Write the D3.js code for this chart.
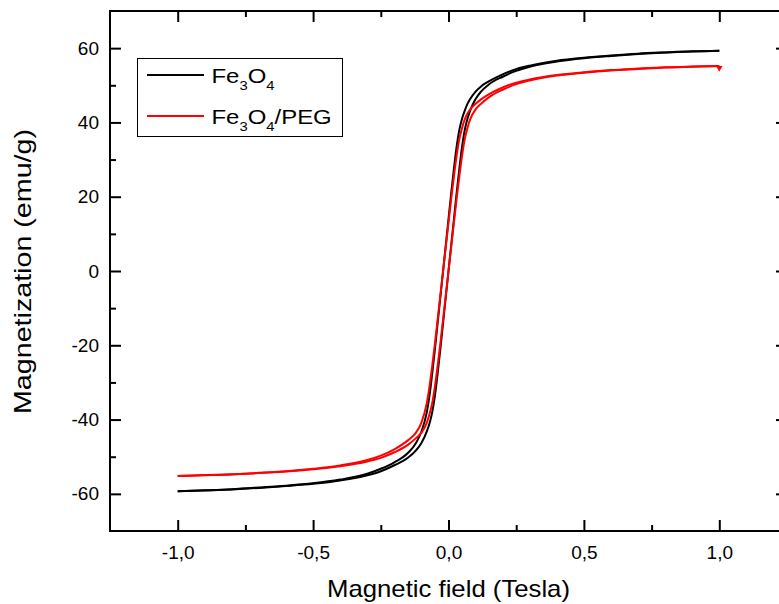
<!DOCTYPE html>
<html><head><meta charset="utf-8">
<script src="https://cdn.jsdelivr.net/npm/d3@7"></script>
<style>body{margin:0;background:#fff}svg{display:block}text{font-family:"Liberation Sans",Arial,sans-serif}</style>
</head><body><svg id="c" width="779" height="604"></svg>
<script>
const fieldT = [-1,-0.9,-0.8,-0.7,-0.6,-0.5,-0.4,-0.3,-0.25,-0.2,-0.15,-0.12,-0.1,-0.08,-0.07,-0.06,-0.05,-0.04,-0.03,-0.02,-0.01,0,0.01,0.02,0.03,0.04,0.05,0.06,0.07,0.08,0.1,0.12,0.15,0.2,0.25,0.3,0.4,0.5,0.6,0.7,0.8,0.9,1];
const fe3o4Asc = [-59.3,-59.1,-58.8,-58.4,-57.9,-57.3,-56.4,-55.0,-53.9,-52.3,-50.3,-48.3,-46.3,-43.2,-41.0,-38.0,-33.5,-27.5,-21.0,-14.0,-7.0,0,7.0,14.0,21.0,27.5,33.5,38.0,41.0,43.2,46.3,48.3,50.3,52.3,53.9,55.0,56.4,57.3,57.9,58.4,58.8,59.1,59.3];
const fe3o4Desc = [-59.3,-59.05,-58.75,-58.3,-57.8,-57.15,-56.15,-54.6,-53.25,-51.5,-49.0,-46.3,-43.2,-38.0,-33.5,-27.5,-21.0,-14.0,-7.0,0,7.0,14.0,21.0,27.5,33.5,38.0,41.0,43.2,45.0,46.3,48.3,49.7,51.1,52.95,54.35,55.3,56.6,57.4,58.0,58.5,58.85,59.15,59.3];
const pegAsc = [-55.2,-55.0,-54.8,-54.4,-54.0,-53.4,-52.6,-51.3,-50.3,-48.8,-46.8,-45.0,-43.5,-40.8,-38.5,-35.5,-31.0,-25.5,-19.5,-13.0,-6.5,0,6.5,13.0,19.5,25.5,31.0,35.5,38.5,40.8,43.5,45.0,46.8,48.8,50.3,51.3,52.6,53.4,54.0,54.4,54.8,55.0,55.2];
const pegDesc = [-55.2,-54.95,-54.75,-54.35,-53.9,-53.25,-52.35,-50.9,-49.7,-48.0,-45.6,-43.5,-40.8,-35.5,-31.0,-25.5,-19.5,-13.0,-6.5,0,6.5,13.0,19.5,25.5,31.0,35.5,38.5,40.8,42.4,43.5,45.0,46.2,47.6,49.4,50.7,51.55,52.75,53.5,54.1,54.5,54.85,55.05,55.2];
const xMajor = [-1,-0.5,0,0.5,1];
const xMinor = [-0.75,-0.25,0.25,0.75];
const yMajor = [-60,-40,-20,0,20,40,60];
const yMinor = [-50,-30,-10,10,30,50];
const seriesColors = ["#000000","#ff0000"];

const svg = d3.select("#c");
const L=110, R=787, T=11, B=531;
const x = d3.scaleLinear().domain([-1.25,1.25]).range([L,R]);
const y = d3.scaleLinear().domain([-70,70]).range([B,T]);
const fmt = v => d3.format(".1f")(v).replace("\u2212","-").replace(".",",");

function styleAxis(g){ g.select(".domain").remove(); g.selectAll("line").attr("stroke","#000").attr("stroke-width",2); g.selectAll("text").attr("fill","#000").style("font-family","'Liberation Sans',Arial,sans-serif"); }

svg.append("g").attr("transform",`translate(0,${B})`).call(d3.axisBottom(x).tickValues(xMajor).tickSize(-11).tickPadding(15).tickFormat(fmt)).call(styleAxis).selectAll("text").style("font-size","19px");
svg.append("g").attr("transform",`translate(0,${B})`).call(d3.axisBottom(x).tickValues(xMinor).tickSize(-6).tickFormat("")).call(styleAxis);
svg.append("g").attr("transform",`translate(0,${T})`).call(d3.axisTop(x).tickValues(xMajor).tickSize(-11).tickFormat("")).call(styleAxis);
svg.append("g").attr("transform",`translate(0,${T})`).call(d3.axisTop(x).tickValues(xMinor).tickSize(-6).tickFormat("")).call(styleAxis);
svg.append("g").attr("transform",`translate(${L},0)`).call(d3.axisLeft(y).tickValues(yMajor).tickSize(-11).tickPadding(11).tickFormat(v=>d3.format("d")(v).replace("\u2212","-"))).call(styleAxis).selectAll("text").style("font-size","19px");
svg.append("g").attr("transform",`translate(${L},0)`).call(d3.axisLeft(y).tickValues(yMinor).tickSize(-6).tickFormat("")).call(styleAxis);
svg.append("g").attr("transform",`translate(${R},0)`).call(d3.axisRight(y).tickValues(yMajor).tickSize(-11).tickFormat("")).call(styleAxis);
svg.append("g").attr("transform",`translate(${R},0)`).call(d3.axisRight(y).tickValues(yMinor).tickSize(-6).tickFormat("")).call(styleAxis);

svg.append("rect").attr("x",L).attr("y",T).attr("width",R-L).attr("height",B-T).attr("fill","none").attr("stroke","#000").attr("stroke-width",2);

const line = d3.line().x(d=>x(d[0])).y(d=>y(d[1])).curve(d3.curveMonotoneX);
const branches = [[fe3o4Desc,0],[fe3o4Asc,0],[pegDesc,1],[pegAsc,1]];
branches.forEach(([vals,i])=>{
  svg.append("path").datum(fieldT.map((h,k)=>[h,vals[k]])).attr("d",line)
    .attr("fill","none").attr("stroke",seriesColors[i]).attr("stroke-width",2);
});
svg.append("path").attr("d",d3.symbol(d3.symbolTriangle,18)()).attr("transform",`translate(${x(fieldT[fieldT.length-1])},${y(pegAsc[pegAsc.length-1])+2}) rotate(180)`).attr("fill","#ff0000");

svg.append("text").attr("x",448.5-121.5).attr("y",597).attr("textLength",243).attr("lengthAdjust","spacingAndGlyphs").style("font-size","24px").attr("fill","#000").text("Magnetic field (Tesla)");
svg.append("text").attr("transform",`translate(31,414) rotate(-90)`).attr("textLength",285).attr("lengthAdjust","spacingAndGlyphs").style("font-size","24px").attr("fill","#000").text("Magnetization (emu/g)");

const lg = svg.append("g");
lg.append("rect").attr("x",137.5).attr("y",58.5).attr("width",205).attr("height",78).attr("fill","#fff").attr("stroke","#000").attr("stroke-width",1);
[75,116].forEach((yy,i)=>{
  lg.append("line").attr("x1",147).attr("x2",204).attr("y1",yy).attr("y2",yy).attr("stroke",seriesColors[i]).attr("stroke-width",2);
  const t = lg.append("g").attr("transform",`translate(211.5,${yy+7.5}) scale(1.14,1)`).append("text").attr("x",0).attr("y",0).style("font-size","21px").attr("fill","#000");
  t.append("tspan").text("Fe");
  t.append("tspan").attr("dy",7).style("font-size","13px").text("3");
  t.append("tspan").attr("dy",-7).text("O");
  t.append("tspan").attr("dy",7).style("font-size","13px").text("4");
  if(i===1) t.append("tspan").attr("dy",-7).text("/PEG");
});
</script></body></html>
